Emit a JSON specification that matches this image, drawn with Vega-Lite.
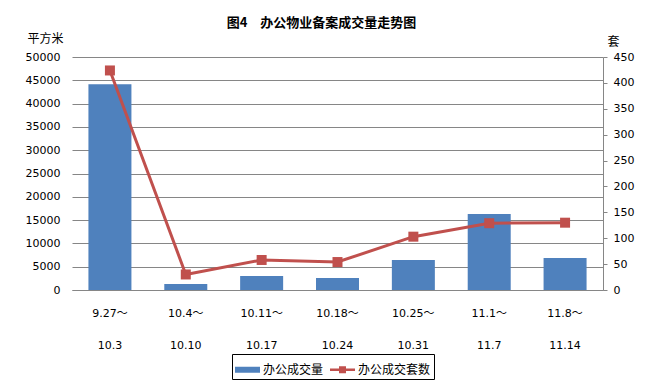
{
  "$schema": "https://vega.github.io/schema/vega-lite/v6.json",
  "width": 531,
  "height": 233,
  "autosize": {"type": "none"},
  "padding": {"left": 72, "top": 57, "right": 46, "bottom": 93},
  "background": "white",
  "title": {
    "text": "图4　办公物业备案成交量走势图",
    "font": "Noto Sans CJK SC",
    "fontSize": 13,
    "fontWeight": "bold",
    "color": "black",
    "anchor": "middle",
    "dx": -16,
    "offset": 2
  },
  "data": {
    "values": [
      {"label": "9.27～|10.3", "area": 44150, "units": 424},
      {"label": "10.4～|10.10", "area": 1290, "units": 30},
      {"label": "10.11～|10.17", "area": 3000, "units": 58},
      {"label": "10.18～|10.24", "area": 2580, "units": 54},
      {"label": "10.25～|10.31", "area": 6440, "units": 103},
      {"label": "11.1～|11.7", "area": 16330, "units": 129},
      {"label": "11.8～|11.14", "area": 6880, "units": 130}
    ]
  },
  "encoding": {
    "x": {
      "field": "label",
      "type": "nominal",
      "sort": null,
      "scale": {"paddingInner": 0, "paddingOuter": 0},
      "axis": {
        "title": null,
        "labelAngle": 0,
        "labelExpr": "split(datum.value, '|')",
        "labelLineHeight": 32,
        "labelPadding": 17,
        "labelBaseline": "top",
        "ticks": false,
        "grid": false,
        "domainColor": "#868686",
        "domainWidth": 1,
        "labelFont": "DejaVu Sans, Noto Sans CJK SC",
        "labelFontSize": 11,
        "labelColor": "black"
      }
    }
  },
  "layer": [
    {
      "mark": {"type": "bar", "size": 43},
      "encoding": {
        "y": {
          "field": "area",
          "type": "quantitative",
          "scale": {"domain": [0, 50000], "nice": false},
          "axis": {
            "orient": "left",
            "title": "平方米",
            "titleAngle": 0,
            "titleX": -27,
            "titleY": -19,
            "titleAlign": "center",
            "titleBaseline": "middle",
            "titleFont": "Noto Sans CJK SC",
            "titleFontSize": 12,
            "titleFontWeight": "normal",
            "titleColor": "black",
            "values": [0, 5000, 10000, 15000, 20000, 25000, 30000, 35000, 40000, 45000, 50000],
            "format": "d",
            "grid": true,
            "gridColor": "#868686",
            "gridWidth": 1,
            "domain": false,
            "ticks": false,
            "labelPadding": 12,
            "labelFont": "DejaVu Sans",
            "labelFontSize": 11,
            "labelColor": "black"
          }
        },
        "color": {
          "datum": "办公成交量",
          "scale": {"domain": ["办公成交量", "办公成交套数"], "range": ["#4F81BD", "#C0504D"]},
          "legend": {
            "orient": "none",
            "legendX": 160,
            "legendY": 297,
            "direction": "horizontal",
            "title": null,
            "strokeColor": "black",
            "padding": 3,
            "symbolSize": 625,
            "labelFont": "Noto Sans CJK SC",
            "labelFontSize": 12,
            "labelColor": "black",
            "labelOffset": 3,
            "columnPadding": 6,
            "symbolStrokeWidth": 0,
            "encode": {
              "symbols": {
                "update": {
                  "shape": {"signal": "datum.value === '办公成交量' ? 'M-1,-0.24H1V0.24H-1Z' : 'M-1,-0.1H1V0.1H-1Z M-0.28,-0.28H0.28V0.28H-0.28Z'"},
                  "fill": {"signal": "datum.value === '办公成交量' ? '#4F81BD' : '#C0504D'"},
                  "opacity": {"value": 1}
                }
              }
            }
          }
        }
      }
    },
    {
      "encoding": {
        "y": {
          "field": "units",
          "type": "quantitative",
          "scale": {"domain": [0, 450], "nice": false},
          "axis": {
            "orient": "right",
            "title": "套",
            "titleAngle": 0,
            "titleX": 10,
            "titleY": -16,
            "titleAlign": "center",
            "titleBaseline": "middle",
            "titleFont": "Noto Sans CJK SC",
            "titleFontSize": 12,
            "titleFontWeight": "normal",
            "titleColor": "black",
            "values": [0, 50, 100, 150, 200, 250, 300, 350, 400, 450],
            "grid": false,
            "domain": true,
            "domainColor": "#868686",
            "ticks": true,
            "tickSize": 4,
            "tickColor": "#868686",
            "labelPadding": 6,
            "labelFont": "DejaVu Sans",
            "labelFontSize": 11,
            "labelColor": "black"
          }
        },
        "color": {"datum": "办公成交套数"}
      },
      "layer": [
        {"mark": {"type": "line", "strokeWidth": 3}},
        {"mark": {"type": "point", "shape": "square", "filled": true, "size": 100, "opacity": 1}}
      ]
    }
  ],
  "resolve": {"scale": {"y": "independent"}},
  "config": {"view": {"stroke": null}}
}
